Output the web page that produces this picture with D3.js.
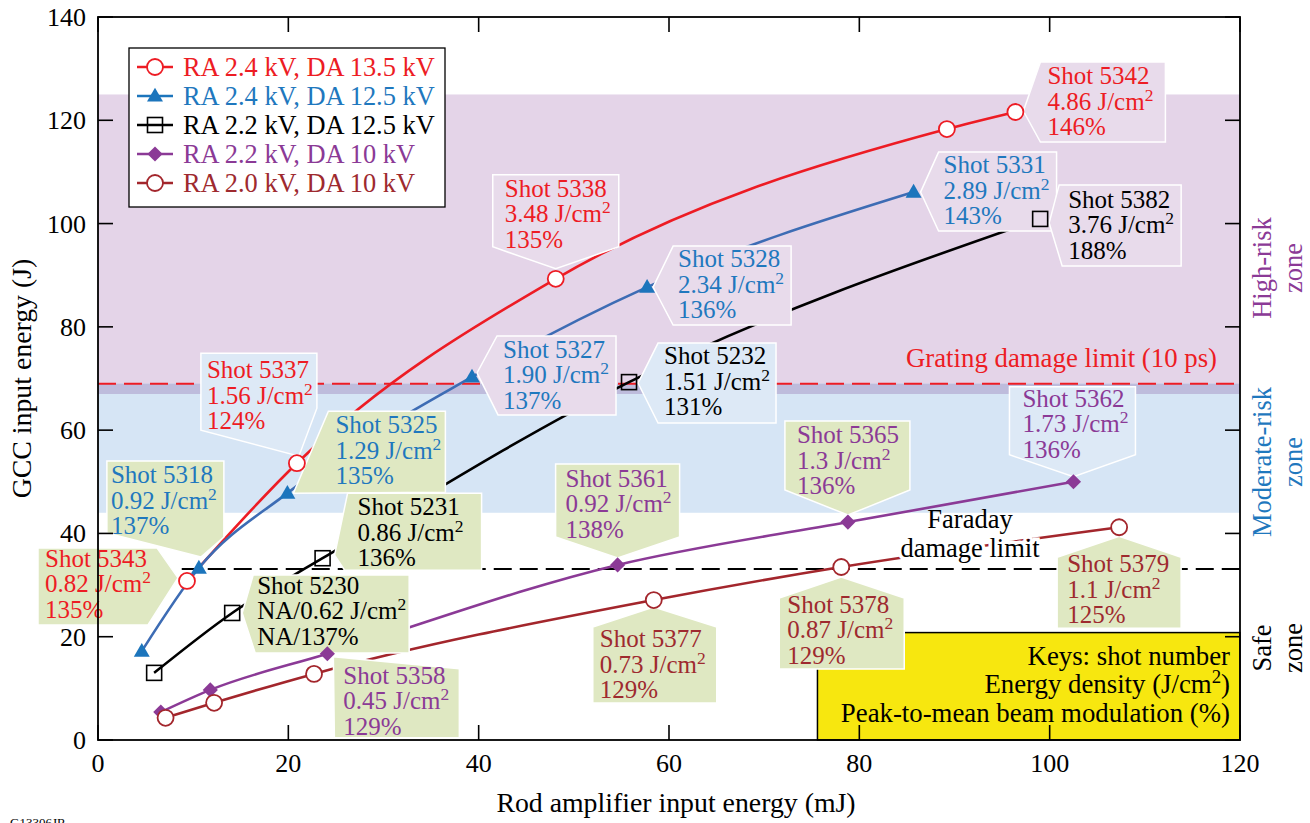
<!DOCTYPE html>
<html>
<head>
<meta charset="utf-8">
<script src="https://cdn.jsdelivr.net/npm/d3@7"></script>
<style>
  body { margin: 0; background: #fff; }
</style>
</head>
<body>
<div id="chart"></div>
<script>
// ---- data ----
const xTicks = [0, 20, 40, 60, 80, 100, 120];
const yTicks = [0, 20, 40, 60, 80, 100, 120, 140];

const legendLabels = ["RA 2.4 kV, DA 13.5 kV", "RA 2.4 kV, DA 12.5 kV", "RA 2.2 kV, DA 12.5 kV", "RA 2.2 kV, DA 10 kV", "RA 2.0 kV, DA 10 kV"];

// rod amplifier input energy (mJ) / GCC input energy (J)
const ra24da135X = [9.35, 20.9, 48.1, 89.2, 96.4];
const ra24da135Y = [30.8, 53.6, 89.3, 118.3, 121.6];
const ra24da125X = [4.6, 10.6, 19.9, 39.3, 57.7, 85.7];
const ra24da125Y = [17.2, 33.3, 47.8, 70.3, 87.7, 106.1];
const ra22da125X = [5.9, 14.1, 23.6, 55.8, 99.0];
const ra22da125Y = [13.0, 24.6, 35.2, 69.3, 100.9];
const ra22da10X = [6.6, 11.8, 24.1, 54.6, 78.8, 102.5];
const ra22da10Y = [5.4, 9.7, 16.7, 33.9, 42.2, 50.0];
const ra20da10X = [7.1, 12.2, 22.7, 58.4, 78.1, 107.3];
const ra20da10Y = [4.3, 7.2, 12.8, 27.1, 33.5, 41.2];

// risk zones and damage limits (J)
const highRiskZone = [67, 125];
const moderateRiskZone = [44, 69];
const gratingLimit = 69;
const faradayLimit = 33.1;

// shot annotations: series index, point index, shot, energy density, modulation
const shotSeries = [0, 0, 0, 0, 1, 1, 1, 1, 1, 2, 2, 2, 2, 3, 3, 3, 3, 4, 4, 4];
const shotPoint  = [0, 1, 2, 4, 1, 2, 3, 4, 5, 1, 2, 3, 4, 2, 3, 4, 5, 3, 4, 5];
const shotNumbers = ["5343", "5337", "5338", "5342", "5318", "5325", "5327", "5328", "5331", "5230", "5231", "5232", "5382", "5358", "5361", "5365", "5362", "5377", "5378", "5379"];
const shotDensity = ["0.82", "1.56", "3.48", "4.86", "0.92", "1.29", "1.90", "2.34", "2.89", "NA/0.62", "0.86", "1.51", "3.76", "0.45", "0.92", "1.3", "1.73", "0.73", "0.87", "1.1"];
const shotModulation = ["135%", "124%", "135%", "146%", "137%", "135%", "137%", "136%", "143%", "NA/137%", "136%", "131%", "188%", "129%", "138%", "136%", "136%", "129%", "129%", "125%"];

// ---- styling ----
const FONT = "'Liberation Serif', 'Tinos', 'Times New Roman', 'DejaVu Serif', serif";
const lineColors = ["#ed1c24", "#3d6cb4", "#000000", "#8b3a96", "#a3262c"];
const markColors = ["#ed1c24", "#1c75bc", "#000000", "#8b3a96", "#a3262c"];
const textColors = ["#ed1c24", "#1f78be", "#000000", "#8b3a96", "#9e2a2f"];
const markTypes = ["circle", "triangle", "square", "diamond", "circle"];
const boxFill = { purple: "#e8dbeb", blue: "#dde9f6", green: "#dfe8c2" };

// callout outlines, offsets in px from the marker they point at
const calloutLayout = [
  { pts: [[-149, -33], [-30, -33], [-9, -3], [-39, 44], [-149, 44]], tx: -142, ty: -14, fill: "green" },
  { pts: [[-96, -110], [20, -110], [20, -55], [2, -7], [-96, -33]], tx: -90, ty: -85, fill: "blue" },
  { pts: [[-63, -104], [63, -104], [63, -32], [0, -10], [-63, -32]], tx: -51, ty: -82, fill: "purple" },
  { pts: [[25, -50], [150, -50], [150, 30], [25, 30], [8, -1]], tx: 32, ty: -28, fill: "purple" },
  { pts: [[-92, -107], [25, -107], [25, -31], [2, -11], [-92, -35]], tx: -88, ty: -85, fill: "green" },
  { pts: [[41, -82], [158, -82], [158, -1], [6, 0]], tx: 48, ty: -60, fill: "green" },
  { pts: [[25, -41], [144, -41], [144, 38], [26, 38], [5, -4]], tx: 31, ty: -19, fill: "purple" },
  { pts: [[26, -41], [144, -41], [144, 38], [26, 38], [6, 0]], tx: 31, ty: -20, fill: "purple" },
  { pts: [[25, -40], [143, -40], [143, 39], [25, 39], [7, 0]], tx: 30, ty: -19, fill: "purple" },
  { pts: [[21, -38], [177, -38], [177, 40], [23, 40], [10, 0]], tx: 25, ty: -19, fill: "green" },
  { pts: [[25, -65], [159, -65], [159, 12], [22, 12], [12, -3]], tx: 35, ty: -43, fill: "green" },
  { pts: [[29, -39], [147, -39], [147, 41], [29, 41], [9, 1]], tx: 35, ty: -18, fill: "blue" },
  { pts: [[19, -34], [141, -34], [141, 47], [22, 47], [9, 4]], tx: 28, ty: -11, fill: "purple" },
  { pts: [[6, 3], [132, 15], [132, 84], [7, 84]], tx: 16, ty: 30, fill: "green" },
  { pts: [[-62, -101], [62, -101], [62, -28], [0, -7], [-62, -28]], tx: -52, ty: -78, fill: "green" },
  { pts: [[-63, -101], [62, -101], [62, -32], [0, -7], [-63, -32]], tx: -51, ty: -79, fill: "green" },
  { pts: [[-64, -95], [62, -95], [62, -27], [0, -5], [-64, -27]], tx: -51, ty: -75, fill: "blue" },
  { pts: [[-61, 27], [0, 7], [63, 27], [63, 103], [-61, 103]], tx: -54, ty: 47, fill: "green" },
  { pts: [[-62, 31], [0, 10], [63, 31], [63, 102], [-62, 102]], tx: -54, ty: 46, fill: "green" },
  { pts: [[-62, 30], [0, 9], [62, 30], [62, 101], [-62, 101]], tx: -52, ty: 45, fill: "green" }
];

const seriesX = [ra24da135X, ra24da125X, ra22da125X, ra22da10X, ra20da10X];
const seriesY = [ra24da135Y, ra24da125Y, ra22da125Y, ra22da10Y, ra20da10Y];
const series = seriesX.map((xs, i) => xs.map((x, j) => ({ x: x, y: seriesY[i][j] })));

const width = 1310, height = 823;
const margin = { top: 17, right: 70, bottom: 83, left: 98 };

const svg = d3.select("#chart").append("svg")
  .attr("width", width)
  .attr("height", height)
  .attr("font-family", FONT)
  .style("display", "block");

const x = d3.scaleLinear().domain([0, 120]).range([margin.left, width - margin.right]);
const y = d3.scaleLinear().domain([0, 140]).range([height - margin.bottom, margin.top]);
const x0 = x.range()[0], x1 = x.range()[1], yb = y.range()[0], yt = y.range()[1];

// Superscript helper: "J/cm" + "2"
function addSup(text, before, sup, after, size) {
  text.append("tspan").text(before);
  text.append("tspan").attr("dy", -size * 0.36).attr("font-size", size * 0.7).text(sup);
  if (after) text.append("tspan").attr("dy", size * 0.36).text(after);
}

// ---- zone bands ----
svg.append("rect")
  .attr("x", x0).attr("width", x1 - x0)
  .attr("y", y(highRiskZone[1])).attr("height", y(highRiskZone[0]) - y(highRiskZone[1]))
  .attr("fill", "#e4d4e8");
svg.append("rect")
  .attr("x", x0).attr("width", x1 - x0)
  .attr("y", y(moderateRiskZone[1])).attr("height", y(moderateRiskZone[0]) - y(moderateRiskZone[1]))
  .attr("fill", "#d6e5f5");
svg.append("rect")
  .attr("x", x0).attr("width", x1 - x0)
  .attr("y", y(moderateRiskZone[1])).attr("height", y(highRiskZone[0]) - y(moderateRiskZone[1]))
  .attr("fill", "#bebcdc");

// ---- damage limits ----
svg.append("line")
  .attr("x1", x0).attr("x2", x1)
  .attr("y1", y(gratingLimit)).attr("y2", y(gratingLimit))
  .attr("stroke", "#ed1c24").attr("stroke-width", 2)
  .attr("stroke-dasharray", "18,8");
svg.append("line")
  .attr("x1", x(8.8)).attr("x2", x1)
  .attr("y1", y(faradayLimit)).attr("y2", y(faradayLimit))
  .attr("stroke", "#000").attr("stroke-width", 2)
  .attr("stroke-dasharray", "18,8");

// ---- keys box (under the callouts) ----
svg.append("rect")
  .attr("x", x(75.6)).attr("y", y(20.8))
  .attr("width", x1 - x(75.6)).attr("height", yb - y(20.8))
  .attr("fill", "#f7e70f").attr("stroke", "#000").attr("stroke-width", 1.5);
svg.append("text").attr("x", 1230).attr("y", 665).attr("text-anchor", "end").attr("font-size", 26.8)
  .text("Keys: shot number");
addSup(svg.append("text").attr("x", 1230).attr("y", 693).attr("text-anchor", "end").attr("font-size", 26.8),
  "Energy density (J/cm", "2", ")", 26.8);
svg.append("text").attr("x", 1230).attr("y", 722).attr("text-anchor", "end").attr("font-size", 26.8)
  .text("Peak-to-mean beam modulation (%)");

// ---- series lines ----
const line = d3.line()
  .x(d => x(d.x))
  .y(d => y(d.y))
  .curve(d3.curveMonotoneX);

svg.selectAll(".series-line")
  .data(series)
  .enter()
  .append("path")
  .attr("class", "series-line")
  .attr("d", line)
  .attr("fill", "none")
  .attr("stroke", (d, i) => lineColors[i])
  .attr("stroke-width", 2.6);

// ---- faraday label (white halo cuts the lines) ----
svg.append("text")
  .attr("x", 970).attr("y", 528)
  .attr("text-anchor", "middle")
  .attr("font-size", 26.5)
  .text("Faraday");
svg.append("text")
  .attr("x", 970).attr("y", 557)
  .attr("text-anchor", "middle")
  .attr("font-size", 26.5)
  .attr("stroke", "#fff").attr("stroke-width", 7)
  .attr("paint-order", "stroke")
  .text("damage limit");

svg.append("text")
  .attr("x", 1217).attr("y", 367)
  .attr("text-anchor", "end")
  .attr("font-size", 26.8)
  .attr("fill", "#ed1c24")
  .text("Grating damage limit (10 ps)");

// ---- callouts ----
const lineGap = 25.5;
shotNumbers.forEach((shot, i) => {
  const s = shotSeries[i];
  const p = series[s][shotPoint[i]];
  const px = x(p.x), py = y(p.y);
  const lay = calloutLayout[i];
  const g = svg.append("g").attr("transform", `translate(${px},${py})`);
  g.append("polygon")
    .attr("points", lay.pts.map(d => d.join(",")).join(" "))
    .attr("fill", boxFill[lay.fill])
    .attr("stroke", "#fff")
    .attr("stroke-width", 1.5);
  const t = g.append("g").attr("fill", textColors[s]).attr("font-size", 25);
  t.append("text").attr("x", lay.tx).attr("y", lay.ty).text("Shot " + shot);
  addSup(t.append("text").attr("x", lay.tx).attr("y", lay.ty + lineGap), shotDensity[i] + " J/cm", "2", "", 25);
  t.append("text").attr("x", lay.tx).attr("y", lay.ty + 2 * lineGap).text(shotModulation[i]);
});

// ---- markers ----
function drawMarker(sel, type, color) {
  if (type === "circle") {
    sel.append("circle").attr("r", 8).attr("fill", "#fff").attr("stroke", color).attr("stroke-width", 1.8);
  } else if (type === "triangle") {
    sel.append("path").attr("d", d3.symbol(d3.symbolTriangle, 110)()).attr("transform", "translate(0,1)").attr("fill", color);
  } else if (type === "square") {
    sel.append("rect").attr("x", -7.5).attr("y", -7.5).attr("width", 15).attr("height", 15)
      .attr("fill", "none").attr("stroke", color).attr("stroke-width", 1.6);
  } else {
    sel.append("path").attr("d", d3.symbol(d3.symbolSquare, 115)()).attr("transform", "rotate(45)").attr("fill", color);
  }
}

series.forEach((pts, i) => {
  pts.forEach(p => {
    drawMarker(svg.append("g").attr("transform", `translate(${x(p.x)},${y(p.y)})`), markTypes[i], markColors[i]);
  });
});

// ---- legend ----
const legend = svg.append("g");
legend.append("rect")
  .attr("x", 129).attr("y", 48).attr("width", 316).attr("height", 159)
  .attr("fill", "#fff").attr("stroke", "#000").attr("stroke-width", 1.3);
legendLabels.forEach((lab, i) => {
  const ly = 67 + i * 29;
  legend.append("line")
    .attr("x1", 137).attr("x2", 173).attr("y1", ly).attr("y2", ly)
    .attr("stroke", i === 1 ? markColors[i] : lineColors[i]).attr("stroke-width", 2.6);
  drawMarker(legend.append("g").attr("transform", `translate(155,${ly})`), markTypes[i], markColors[i]);
  legend.append("text")
    .attr("x", 183).attr("y", ly + 9)
    .attr("font-size", 26.4)
    .attr("fill", textColors[i])
    .text(lab);
});

// ---- frame and inward ticks ----
svg.append("rect")
  .attr("x", x0).attr("y", yt).attr("width", x1 - x0).attr("height", yb - yt)
  .attr("fill", "none").attr("stroke", "#000").attr("stroke-width", 1.8);

const tickLen = 15;
const tickG = svg.append("g").attr("stroke", "#000").attr("stroke-width", 1.6);
xTicks.forEach(t => {
  tickG.append("line").attr("x1", x(t)).attr("x2", x(t)).attr("y1", yb).attr("y2", yb - tickLen);
  tickG.append("line").attr("x1", x(t)).attr("x2", x(t)).attr("y1", yt).attr("y2", yt + tickLen);
});
yTicks.forEach(t => {
  tickG.append("line").attr("x1", x0).attr("x2", x0 + tickLen).attr("y1", y(t)).attr("y2", y(t));
  tickG.append("line").attr("x1", x1).attr("x2", x1 - tickLen).attr("y1", y(t)).attr("y2", y(t));
});

svg.selectAll(".xlab")
  .data(xTicks)
  .enter()
  .append("text")
  .attr("class", "xlab")
  .attr("x", d => x(d))
  .attr("y", yb + 32)
  .attr("text-anchor", "middle")
  .attr("font-size", 26)
  .text(d => d);

svg.selectAll(".ylab")
  .data(yTicks)
  .enter()
  .append("text")
  .attr("class", "ylab")
  .attr("x", x0 - 12)
  .attr("y", d => y(d) + 9)
  .attr("text-anchor", "end")
  .attr("font-size", 26)
  .text(d => d);

// ---- axis titles ----
svg.append("text")
  .attr("x", (x0 + x1) / 2 + 7).attr("y", 812)
  .attr("text-anchor", "middle")
  .attr("font-size", 27.8)
  .text("Rod amplifier input energy (mJ)");

svg.append("text")
  .attr("transform", `translate(31,${(yt + yb) / 2}) rotate(-90)`)
  .attr("text-anchor", "middle")
  .attr("font-size", 27.8)
  .text("GCC input energy (J)");

// ---- zone labels on the right ----
const zoneLabels = [
  { lines: ["High-risk", "zone"], cy: 268, color: "#8b3a96" },
  { lines: ["Moderate-risk", "zone"], cy: 462, color: "#1f78be" },
  { lines: ["Safe", "zone"], cy: 648, color: "#000" }
];
zoneLabels.forEach(z => {
  z.lines.forEach((l, k) => {
    svg.append("text")
      .attr("transform", `translate(${k === 0 ? 1271 : 1302},${z.cy}) rotate(-90)`)
      .attr("text-anchor", "middle")
      .attr("font-size", 26.5)
      .attr("fill", z.color)
      .text(l);
  });
});

svg.append("text")
  .attr("x", 10).attr("y", 827)
  .attr("font-size", 13)
  .text("G13306JR");
</script>
</body>
</html>
